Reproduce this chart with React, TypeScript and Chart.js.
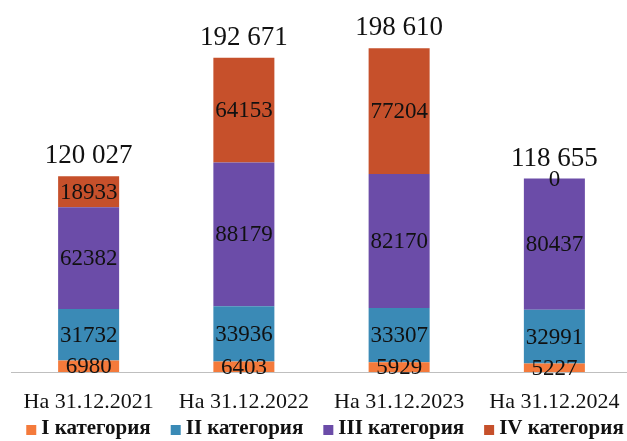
import React, { useEffect, useRef } from "react";
import { Chart, registerables } from "chart.js";

Chart.register(...registerables);

const categories = ["На 31.12.2021", "На 31.12.2022", "На 31.12.2023", "На 31.12.2024"];
const seriesNames = ["I категория", "II категория", "III категория", "IV категория"];
const cat1 = [6980, 6403, 5929, 5227];
const cat2 = [31732, 33936, 33307, 32991];
const cat3 = [62382, 88179, 82170, 80437];
const cat4 = [18933, 64153, 77204, 0];
const colors = ["#F47A3B", "#3A8AB6", "#6B4CA8", "#C6502B"];

const FONT = "'Liberation Serif', 'Times New Roman', serif";

const fmtTotal = (v: number) => String(v).replace(/\B(?=(\d{3})+(?!\d))/g, " ");

const labelsPlugin = {
  id: "valueLabels",
  afterDatasetsDraw(chart: any) {
    const ctx = chart.ctx;
    ctx.save();
    ctx.fillStyle = "#111";
    ctx.textAlign = "center";
    ctx.textBaseline = "middle";
    ctx.font = `23px ${FONT}`;
    chart.data.datasets.forEach((ds: any, di: number) => {
      const meta = chart.getDatasetMeta(di);
      meta.data.forEach((el: any, i: number) => {
        const { x, y, base } = el.getProps(["x", "y", "base"], true);
        ctx.fillText(String(ds.data[i]), x, (y + base) / 2 + 1);
      });
    });
    const last = chart.getDatasetMeta(chart.data.datasets.length - 1);
    ctx.font = `27px ${FONT}`;
    ctx.textBaseline = "alphabetic";
    last.data.forEach((el: any, i: number) => {
      const { x, y } = el.getProps(["x", "y"], true);
      const total = chart.data.datasets.reduce((s: number, d: any) => s + d.data[i], 0);
      ctx.fillText(fmtTotal(total), x, y - 13);
    });
    ctx.restore();
  },
};

const legendPlugin = {
  id: "customLegend",
  afterDraw(chart: any) {
    const ctx = chart.ctx;
    const box = 10;
    const gapBoxText = 5;
    const gapItems = 20;
    const cy = 429;
    const cx = 325;
    ctx.save();
    ctx.font = `bold 21px ${FONT}`;
    const items = chart.data.datasets.map((ds: any) => ({
      text: ds.label,
      color: ds.backgroundColor,
      w: ctx.measureText(ds.label).width,
    }));
    const total =
      items.reduce((s: number, it: any) => s + box + gapBoxText + it.w, 0) + gapItems * (items.length - 1);
    let x = cx - total / 2;
    ctx.textBaseline = "middle";
    ctx.textAlign = "left";
    items.forEach((it: any) => {
      ctx.fillStyle = it.color;
      ctx.fillRect(x, cy - box / 2 + 1, box, box);
      ctx.fillStyle = "#111";
      ctx.fillText(it.text, x + box + gapBoxText, cy);
      x += box + gapBoxText + it.w + gapItems;
    });
    ctx.restore();
  },
};

export default function App() {
  const ref = useRef<HTMLCanvasElement>(null);
  useEffect(() => {
    if (!ref.current) return;
    const series = [cat1, cat2, cat3, cat4];
    const chart = new Chart(ref.current, {
      type: "bar",
      data: {
        labels: categories,
        datasets: series.map((d, i) => ({
          label: seriesNames[i],
          data: d,
          backgroundColor: colors[i],
          borderWidth: 0,
          barPercentage: 1,
          categoryPercentage: 0.393,
        })),
      },
      options: {
        animation: false,
        responsive: false,
        layout: { padding: { left: 11, right: 4, top: 10, bottom: 17 } },
        plugins: {
          legend: { display: false },
          tooltip: { enabled: false },
        },
        scales: {
          x: {
            stacked: true,
            grid: { display: false },
            border: { display: true, color: "#BFBFBF", width: 1 },
            ticks: { color: "#111", font: { family: FONT, size: 22, lineHeight: 2 }, padding: 0, maxRotation: 0 },
          },
          y: {
            stacked: true,
            display: false,
            min: 0,
            max: 222000,
          },
        },
      },
      plugins: [labelsPlugin, legendPlugin],
    });
    return () => chart.destroy();
  }, []);
  return (
    <div style={{ position: "fixed", left: 0, top: 0, width: 627, height: 441, overflow: "hidden", background: "#fff" }}>
      <canvas ref={ref} width={636} height={441} style={{ display: "block", width: 636, height: 441 }} />
    </div>
  );
}
